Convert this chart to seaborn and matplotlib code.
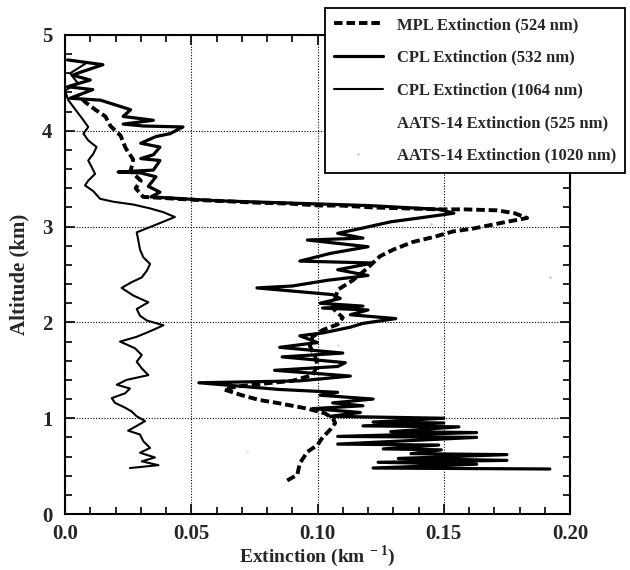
import numpy as np
import pandas as pd
import matplotlib
matplotlib.use('Agg')
import matplotlib.pyplot as plt
from matplotlib.lines import Line2D
from matplotlib.ticker import MultipleLocator, FixedLocator
import seaborn as sns

# Perfis (extincao em km^-1, altitude em km)
mpl_ext = [0.088, 0.092, 0.093, 0.096, 0.100, 0.102, 0.105, 0.107, 0.106, 0.103, 0.096,
           0.092, 0.084, 0.077, 0.070, 0.063, 0.068, 0.078, 0.090, 0.098, 0.100, 0.099,
           0.097, 0.098, 0.102, 0.108, 0.110, 0.106, 0.107, 0.108, 0.114, 0.1195, 0.1247,
           0.130, 0.1378, 0.1458, 0.1537, 0.1617, 0.173, 0.183, 0.178, 0.171, 0.158, 0.148,
           0.135, 0.122, 0.109, 0.101, 0.089, 0.076, 0.051, 0.038, 0.031, 0.028, 0.030,
           0.026, 0.027, 0.024, 0.022, 0.018, 0.016, 0.012, 0.008, 0.005]
mpl_alt = [0.35, 0.41, 0.53, 0.65, 0.72, 0.80, 0.88, 0.95, 1.00, 1.05, 1.10,
           1.12, 1.16, 1.19, 1.24, 1.30, 1.33, 1.36, 1.39, 1.45, 1.55, 1.65,
           1.75, 1.85, 1.92, 1.98, 2.05, 2.15, 2.25, 2.34, 2.44, 2.56, 2.69,
           2.76, 2.84, 2.89, 2.95, 2.98, 3.04, 3.09, 3.14, 3.17, 3.18, 3.18,
           3.19, 3.20, 3.22, 3.22, 3.24, 3.25, 3.28, 3.30, 3.31, 3.40, 3.48,
           3.58, 3.70, 3.82, 3.95, 4.05, 4.15, 4.22, 4.30, 4.38]

cpl532_ext = [0.192, 0.122, 0.163, 0.124, 0.175, 0.132, 0.175, 0.137, 0.149, 0.126, 0.148,
              0.108, 0.163, 0.108, 0.163, 0.129, 0.156, 0.118, 0.150, 0.122, 0.150, 0.105,
              0.117, 0.098, 0.118, 0.106, 0.122, 0.101, 0.108, 0.085, 0.053, 0.093, 0.113,
              0.083, 0.108, 0.111, 0.086, 0.110, 0.085, 0.100, 0.093, 0.102, 0.113, 0.118,
              0.131, 0.113, 0.120, 0.102, 0.118, 0.101, 0.109, 0.106, 0.076, 0.090, 0.104,
              0.120, 0.108, 0.122, 0.093, 0.105, 0.120, 0.096, 0.118, 0.108, 0.117, 0.129,
              0.143, 0.154, 0.148, 0.120, 0.084, 0.060, 0.034, 0.0376, 0.033, 0.036, 0.030,
              0.021, 0.035, 0.0376, 0.030, 0.035, 0.0376, 0.030, 0.036, 0.0416, 0.0467, 0.031,
              0.023, 0.035, 0.023, 0.026, 0.014, 0.002, 0.011, 0.001, 0.010, 0.003, 0.006,
              0.015, 0.001]
cpl532_alt = [0.47, 0.48, 0.52, 0.54, 0.56, 0.58, 0.62, 0.63, 0.67, 0.68, 0.72,
              0.73, 0.80, 0.81, 0.85, 0.86, 0.91, 0.92, 0.95, 0.96, 1.00, 1.02,
              1.06, 1.10, 1.13, 1.16, 1.20, 1.24, 1.27, 1.30, 1.37, 1.39, 1.44,
              1.50, 1.54, 1.58, 1.64, 1.68, 1.74, 1.79, 1.86, 1.89, 1.95, 1.99,
              2.04, 2.08, 2.13, 2.15, 2.17, 2.20, 2.25, 2.29, 2.36, 2.38, 2.44,
              2.49, 2.55, 2.62, 2.64, 2.72, 2.79, 2.86, 2.88, 2.93, 2.98, 3.05,
              3.10, 3.14, 3.18, 3.22, 3.25, 3.27, 3.31, 3.36, 3.42, 3.52, 3.56,
              3.57, 3.59, 3.69, 3.71, 3.75, 3.83, 3.87, 3.94, 3.97, 4.04, 4.05,
              4.07, 4.11, 4.15, 4.22, 4.32, 4.34, 4.43, 4.46, 4.53, 4.58, 4.61,
              4.69, 4.74]

cpl1064_ext = [0.0257, 0.037, 0.0304, 0.0356, 0.0297, 0.0337, 0.031, 0.0297, 0.025, 0.0284,
               0.0317, 0.0284, 0.0264, 0.0238, 0.0198, 0.0185, 0.0238, 0.0257, 0.0205, 0.0244,
               0.033, 0.0304, 0.0284, 0.0304, 0.0277, 0.0218, 0.0284, 0.033, 0.039, 0.0324,
               0.0297, 0.0284, 0.033, 0.0271, 0.0224, 0.0264, 0.0304, 0.0324, 0.0337, 0.031,
               0.0297, 0.029, 0.0284, 0.036, 0.0435, 0.039, 0.0337, 0.0271, 0.0191, 0.0139,
               0.0112, 0.0079, 0.0092, 0.0119, 0.0106, 0.0092, 0.0112, 0.0125, 0.0092, 0.0073,
               0.0092, 0.0073, 0.0053, 0.0033, 0.0013, 0.0, 0.005, 0.002, 0.008]
cpl1064_alt = [0.48, 0.51, 0.55, 0.59, 0.64, 0.69, 0.76, 0.83, 0.87, 0.92,
               0.97, 1.02, 1.07, 1.11, 1.16, 1.21, 1.26, 1.31, 1.35, 1.40,
               1.45, 1.52, 1.59, 1.66, 1.73, 1.80, 1.85, 1.90, 1.97, 2.02,
               2.07, 2.14, 2.21, 2.28, 2.36, 2.42, 2.47, 2.54, 2.61, 2.68,
               2.76, 2.86, 2.94, 3.02, 3.10, 3.15, 3.19, 3.23, 3.26, 3.29,
               3.37, 3.43, 3.48, 3.55, 3.62, 3.69, 3.76, 3.83, 3.90, 3.97,
               4.04, 4.11, 4.18, 4.25, 4.32, 4.42, 4.50, 4.60, 4.70]

# AATS-14 quase invisivel no original
aats525_ext = [0.072, 0.108]
aats525_alt = [0.65, 1.76]
aats1020_ext = [0.192, 0.145]
aats1020_alt = [2.47, 3.03]

sns.set_style('ticks')
plt.rcParams['font.family'] = ['Liberation Serif', 'DejaVu Serif']
plt.rcParams['font.weight'] = 'bold'
plt.rcParams['mathtext.fontset'] = 'custom'
plt.rcParams['mathtext.rm'] = 'Liberation Serif:bold'
plt.rcParams['mathtext.bf'] = 'Liberation Serif:bold'

fig = plt.figure(figsize=(6.3, 5.7), dpi=100)
ax = fig.add_axes([0.1032, 0.0982, 0.8016, 0.8404])

mpl_df = pd.DataFrame({'ext': mpl_ext, 'alt': mpl_alt})
c532_df = pd.DataFrame({'ext': cpl532_ext, 'alt': cpl532_alt})
c1064_df = pd.DataFrame({'ext': cpl1064_ext, 'alt': cpl1064_alt})

sns.lineplot(data=c1064_df, x='ext', y='alt', sort=False, estimator=None,
             color='black', lw=1.5, ax=ax)
sns.lineplot(data=c532_df, x='ext', y='alt', sort=False, estimator=None,
             color='black', lw=2.3, ax=ax)
sns.lineplot(data=mpl_df, x='ext', y='alt', sort=False, estimator=None,
             color='black', lw=2.8, ax=ax)
ax.lines[-1].set_dashes((2.2, 1.0))
sns.scatterplot(x=aats525_ext, y=aats525_alt, color='#e6e6e6', s=4, linewidth=0, ax=ax)
sns.scatterplot(x=aats1020_ext, y=aats1020_alt, color='#cfcfcf', s=4, linewidth=0, ax=ax)

ax.set_xlim(0, 0.20)
ax.set_ylim(0, 5)
ax.xaxis.set_major_locator(FixedLocator([0.0, 0.05, 0.10, 0.15, 0.20]))
ax.set_xticklabels(['0.0', '0.05', '0.10', '0.15', '0.20'])
ax.xaxis.set_minor_locator(MultipleLocator(0.01))
ax.yaxis.set_major_locator(MultipleLocator(1))
ax.yaxis.set_minor_locator(MultipleLocator(0.2))
ax.tick_params(which='both', direction='in', top=True, right=True, color='black', width=1.2)
ax.tick_params(which='major', length=7, labelsize=15)
ax.tick_params(axis='x', which='major', pad=7)
ax.tick_params(axis='y', which='major', pad=9)
ax.tick_params(which='minor', length=5)
for lab in ax.get_xticklabels() + ax.get_yticklabels():
    lab.set_fontweight('bold')
for sp in ax.spines.values():
    sp.set_color('black')
    sp.set_linewidth(1.5)
ax.grid(True, which='major', color='black', linestyle=(0, (1, 1.5)), linewidth=0.8)

ax.set_xlabel(r'Extinction (km$^{\,-1}$)', fontsize=14, fontweight='bold')
ax.xaxis.label.set_verticalalignment('center')
ax.xaxis.set_label_coords(0.5, -0.088)
ax.set_ylabel('Altitude (km)', fontsize=15, fontweight='bold', labelpad=9)

handles = [
    Line2D([], [], color='black', lw=2.8, dashes=(2.2, 1.0)),
    Line2D([], [], color='black', lw=2.3),
    Line2D([], [], color='black', lw=1.5),
    Line2D([], [], color='white', lw=0),
    Line2D([], [], color='#cfcfcf', marker='.', ms=2, lw=0),
]
labels = ['MPL Extinction (524 nm)', 'CPL Extinction (532 nm)', 'CPL Extinction (1064 nm)',
          'AATS-14 Extinction (525 nm)', 'AATS-14 Extinction (1020 nm)']
leg = ax.legend(handles, labels, loc='upper left', bbox_to_anchor=(0.516, 0.986),
                bbox_transform=fig.transFigure, fancybox=False, framealpha=1,
                edgecolor='black', prop={'family': 'Liberation Serif', 'weight': 'bold', 'size': 12},
                handlelength=2.9, labelspacing=1.0, borderpad=0.55, handletextpad=0.85,
                borderaxespad=0)
leg.get_frame().set_linewidth(1.3)

fig.savefig('out.png', dpi=100)
